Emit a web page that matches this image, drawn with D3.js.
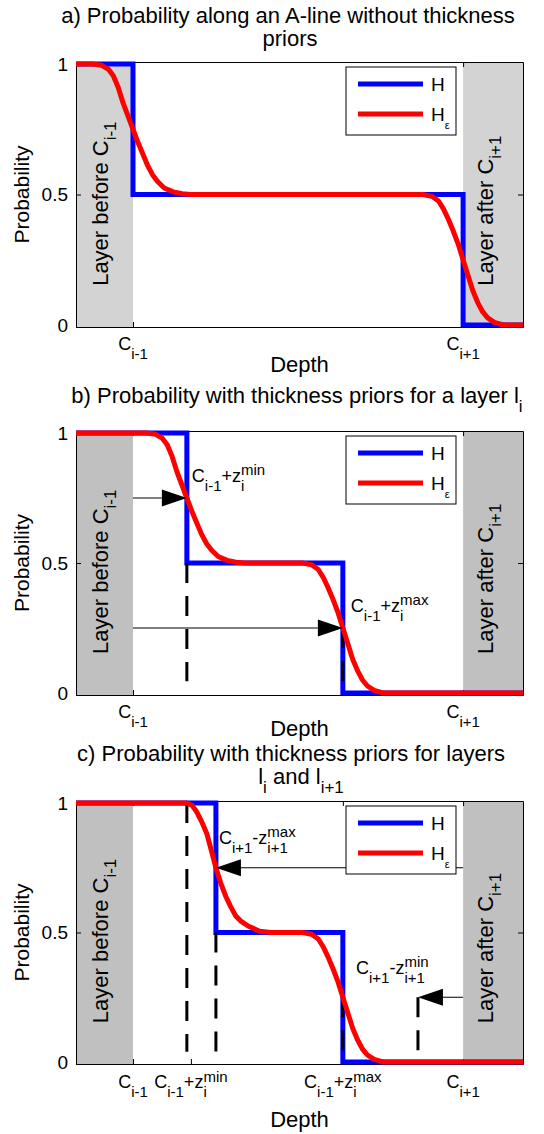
<!DOCTYPE html>
<html><head><meta charset="utf-8">
<script src="https://cdn.jsdelivr.net/npm/d3@7"></script>
<style>
body{margin:0;background:#fff}
svg{display:block}
text{font-family:"Liberation Sans",Arial,Helvetica,sans-serif;fill:#000}
</style>
</head><body>
<svg id="chart" width="544" height="1134"></svg>
<script>
// ---------------- data ----------------
const depthDomain = [0, 100];
const probDomain = [0, 1];
const probTicks = [0, 0.5, 1];
const probTickLabels = ["0", "0.5", "1"];

const layerBefore = [0, 12.75];
const layerAfter = [86.6, 100];
const layerTexts = ["Layer before C_{i-1}", "Layer after C_{i+1}"];
const layerTextProb = 0.15;

const seriesNames = ["H", "H_{ε}"];

const titlesA = ["a) Probability along an A-line without thickness", "priors"];
const titlesB = ["b) Probability with thickness priors for a layer l_{i}"];
const titlesC = ["c) Probability with thickness priors for layers", "l_{i} and l_{i+1}"];
const xLabel = "Depth";
const yLabel = "Probability";

const xTicksA = [12.75, 86.6];
const xTickLabelsA = ["C_{i-1}", "C_{i+1}"];
const xTicksB = [12.75, 86.6];
const xTickLabelsB = ["C_{i-1}", "C_{i+1}"];
const xTicksC = [12.75, 25.7, 59.7, 86.6];
const xTickLabelsC = ["C_{i-1}", "C_{i-1}+z_{i}^{min}", "C_{i-1}+z_{i}^{max}", "C_{i+1}"];

// H (blue step functions)
const hA = [[0,1],[12.75,1],[12.75,0.5],[86.6,0.5],[86.6,0],[100,0]];
const hB = [[0,1],[24.8,1],[24.8,0.5],[59.7,0.5],[59.7,0],[100,0]];
const hC = [[0,1],[31.3,1],[31.3,0.5],[59.7,0.5],[59.7,0],[100,0]];

// H_eps (red smooth curves)
const hEpsA = [[0,1],[3.75,1],[5.75,0.995],[7.25,0.98],[8.35,0.955],[9.45,0.91],[10.55,0.85],[11.65,0.8],[12.75,0.75],
  [13.85,0.7],[14.95,0.655],[16.05,0.61],[17.15,0.575],[18.25,0.55],[19.75,0.525],[21.75,0.51],[23.75,0.503],[25.75,0.5],
  [77.6,0.5],[79.6,0.493],[81.1,0.475],[82.2,0.445],[83.3,0.405],[84.4,0.36],[85.5,0.31],[86.6,0.25],[87.7,0.19],
  [88.8,0.13],[89.9,0.085],[91.0,0.05],[92.1,0.027],[93.6,0.01],[95.6,0],[100,0]];
const hEpsB = [[0,1],[15.8,1],[17.8,0.995],[19.3,0.98],[20.4,0.955],[21.5,0.91],[22.6,0.85],[23.7,0.8],[24.8,0.75],
  [25.9,0.7],[27.0,0.655],[28.1,0.61],[29.2,0.575],[30.3,0.55],[31.8,0.525],[33.8,0.51],[35.8,0.503],[37.8,0.5],
  [50.7,0.5],[52.7,0.493],[54.2,0.475],[55.3,0.445],[56.4,0.405],[57.5,0.36],[58.6,0.31],[59.7,0.25],[60.8,0.19],
  [61.9,0.13],[63.0,0.085],[64.1,0.05],[65.2,0.027],[66.7,0.01],[68.7,0],[100,0]];
const hEpsC = [[0,1],[24.8,1],[26.0,0.99],[27.0,0.966],[28.2,0.925],[29.3,0.88],[30.3,0.815],[31.3,0.75],
  [32.4,0.69],[33.5,0.64],[34.6,0.6],[35.7,0.565],[36.8,0.545],[38.5,0.525],[41.1,0.505],[43.5,0.5],
  [50.7,0.5],[52.7,0.493],[54.2,0.475],[55.3,0.445],[56.4,0.405],[57.5,0.36],[58.6,0.31],[59.7,0.25],[60.8,0.19],
  [61.9,0.13],[63.0,0.085],[64.1,0.05],[65.2,0.027],[66.7,0.01],[68.7,0],[100,0]];

// annotations: arrows [fromDepth, toDepth, prob], dashed [depth, probTop, probBottom]
const arrowsB = [[12.75, 24.8, 0.75], [12.75, 59.7, 0.25]];
const arrowsC = [[86.6, 31.3, 0.75], [86.6, 76.5, 0.25]];
const dashesB = [[24.8, 0.5, 0.045], [59.7, 0.25, 0.045]];
const dashesC = [[24.8, 1, 0.04], [31.3, 0.5, 0.04], [59.7, 0.25, 0.04], [76.5, 0.25, 0.04]];
const annotB = ["C_{i-1}+z_{i}^{min}", "C_{i-1}+z_{i}^{max}"];
const annotC = ["C_{i+1}-z_{i+1}^{max}", "C_{i+1}-z_{i+1}^{min}"];

// ---------------- helpers ----------------
const FONT = '"Liberation Sans",Arial,Helvetica,sans-serif';
function parseTex(s) {
  const parts = []; let buf = ''; let i = 0;
  const readGroup = () => {
    if (s[i] === '{') { const j = s.indexOf('}', i); const g = s.slice(i + 1, j); i = j + 1; return g; }
    return s[i++];
  };
  while (i < s.length) {
    const ch = s[i];
    if (ch === '_' || ch === '^') {
      if (buf) { parts.push({ n: buf }); buf = ''; }
      i++;
      const g = readGroup();
      const key = ch === '_' ? 'sub' : 'sup';
      const last = parts[parts.length - 1];
      if (last && last.n === undefined && last[key] === undefined) last[key] = g;
      else { const p = {}; p[key] = g; parts.push(p); }
    } else { buf += ch; i++; }
  }
  if (buf) parts.push({ n: buf });
  return parts;
}
function richText(g, str, o) {
  const outer = g.append('g').attr('transform', `translate(${o.x},${o.y}) rotate(${o.rotate || 0})`);
  const inner = outer.append('g');
  let cx = 0;
  const add = (txt, y, size) => {
    const t = inner.append('text').attr('x', cx).attr('y', y)
      .style('font-size', size + 'px').style('white-space', 'pre').style('font-family', FONT).text(txt);
    return t.node().getComputedTextLength();
  };
  parseTex(str).forEach(p => {
    if (p.n !== undefined) cx += add(p.n, 0, o.size);
    else {
      let w = 0;
      if (p.sub !== undefined) w = Math.max(w, add(p.sub, o.subDy, o.subSize));
      if (p.sup !== undefined) w = Math.max(w, add(p.sup, -o.supDy, o.subSize));
      cx += w;
    }
  });
  const shift = o.anchor === 'middle' ? -cx / 2 : o.anchor === 'end' ? -cx : 0;
  inner.attr('transform', `translate(${shift},0)`);
  return cx;
}

// ---------------- layout ----------------
const svg = d3.select('#chart');
const LEFT = 76, RIGHT = 523;
const panels = [
  { top: 62, bottom: 327, gray: '#d3d3d3', titles: titlesA, titleY: [23, 46], titleX: [288, 290],
    h: hA, hEps: hEpsA, ticks: xTicksA, tickLabels: xTickLabelsA, tickY: 23, depthY: 45,
    arrows: [], dashes: [], annots: [], annotOff: [] },
  { top: 431, bottom: 695, gray: '#c0c0c0', titles: titlesB, titleY: [403], titleX: [297],
    h: hB, hEps: hEpsB, ticks: xTicksB, tickLabels: xTickLabelsB, tickY: 23, depthY: 41,
    arrows: arrowsB, dashes: dashesB, annots: annotB, annotOff: [[5, -16], [8, -16]] },
  { top: 801, bottom: 1064, gray: '#c0c0c0', titles: titlesC, titleY: [761, 784], titleX: [291, 301],
    h: hC, hEps: hEpsC, ticks: xTicksC, tickLabels: xTickLabelsC, tickY: 24, depthY: 63,
    arrows: arrowsC, dashes: dashesC, annots: annotC, annotOff: [[3, -24], [-62, -23]] }
];

panels.forEach(P => {
  const g = svg.append('g');
  const x = d3.scaleLinear().domain(depthDomain).range([LEFT, RIGHT]);
  const y = d3.scaleLinear().domain(probDomain).range([P.bottom - 2, P.top + 2]);
  const yTop = P.top, yBot = P.bottom;

  // titles
  P.titles.forEach((t, i) => richText(g, t, { x: P.titleX[i], y: P.titleY[i], size: 22, subSize: 17, subDy: 9, supDy: 8, anchor: 'middle' }));

  // gray layers
  [layerBefore, layerAfter].forEach(r => {
    g.append('rect').attr('x', x(r[0])).attr('y', yTop).attr('width', x(r[1]) - x(r[0])).attr('height', yBot - yTop)
      .attr('fill', P.gray);
  });

  // axes (box)
  const tickStyle = sel => { sel.selectAll('path.domain').attr('stroke', '#000').attr('stroke-width', 1);
    sel.selectAll('.tick line').attr('stroke', '#000').attr('stroke-width', 1); sel.selectAll('.tick text').remove(); };
  const yl = d3.scaleLinear().domain(probDomain).range([yBot, yTop]);
  g.append('g').attr('transform', `translate(${LEFT},0)`)
    .call(d3.axisLeft(yl).tickValues(probTicks).tickSize(-5).tickSizeOuter(0)).call(tickStyle);
  g.append('g').attr('transform', `translate(${RIGHT},0)`)
    .call(d3.axisRight(yl).tickValues(probTicks).tickSize(-5).tickSizeOuter(0)).call(tickStyle);
  g.append('g').attr('transform', `translate(0,${yBot})`)
    .call(d3.axisBottom(x).tickValues(P.ticks).tickSize(-5).tickSizeOuter(0)).call(tickStyle);
  g.append('g').attr('transform', `translate(0,${yTop})`)
    .call(d3.axisTop(x).tickValues(P.ticks).tickSize(-5).tickSizeOuter(0)).call(tickStyle);

  // y tick labels
  probTicks.forEach((v, i) => {
    g.append('text').attr('x', LEFT - 8).attr('y', y(v)).attr('dy', '0.36em').attr('text-anchor', 'end')
      .style('font-size', '19px').text(probTickLabels[i]);
  });
  // x tick labels
  P.ticks.forEach((v, i) => richText(g, P.tickLabels[i], { x: x(v), y: yBot + P.tickY, size: 18, subSize: 15, subDy: 9, supDy: 6, anchor: 'middle' }));

  // axis labels
  g.append('text').attr('x', (LEFT + RIGHT) / 2).attr('y', yBot + P.depthY).attr('text-anchor', 'middle')
    .style('font-size', '22px').text(xLabel);
  g.append('text').attr('transform', `translate(29,${(yTop + yBot) / 2}) rotate(-90)`).attr('text-anchor', 'middle')
    .style('font-size', '21px').text(yLabel);

  // layer texts
  richText(g, layerTexts[0], { x: x(layerBefore[1]) - 25, y: y(layerTextProb), rotate: -90, size: 22, subSize: 17, subDy: 8, supDy: 8, anchor: 'start' });
  richText(g, layerTexts[1], { x: x(layerAfter[0]) + 30, y: y(layerTextProb), rotate: -90, size: 22, subSize: 17, subDy: 8, supDy: 8, anchor: 'start' });

  const line = d3.line().x(d => x(d[0])).y(d => y(d[1]));
  // H
  g.append('path').attr('d', line(P.h)).attr('fill', 'none').attr('stroke', '#0000ff').attr('stroke-width', 5);
  // dashed
  P.dashes.forEach(d => {
    g.append('line').attr('x1', x(d[0])).attr('x2', x(d[0])).attr('y1', y(d[1])).attr('y2', y(d[2]))
      .attr('stroke', '#000').attr('stroke-width', 3).attr('stroke-dasharray', '20,13');
  });
  // H eps
  g.append('path').attr('d', line(P.hEps)).attr('fill', 'none').attr('stroke', '#ff0000').attr('stroke-width', 5)
    .attr('stroke-linejoin', 'round');

  // arrows
  P.arrows.forEach(a => {
    const x0 = x(a[0]), x1 = x(a[1]), yy = y(a[2]);
    const dir = Math.sign(x1 - x0), hl = 25, hw = 8.5;
    g.append('line').attr('x1', x0).attr('x2', x1 - dir * hl).attr('y1', yy).attr('y2', yy).attr('stroke', '#000').attr('stroke-width', 1);
    g.append('path').attr('d', `M${x1},${yy}L${x1 - dir * hl},${yy - hw}L${x1 - dir * hl},${yy + hw}Z`).attr('fill', '#000');
  });

  // legend
  const lx = RIGHT - 177, ly = yTop + 5;
  const lg = g.append('g');
  lg.append('rect').attr('x', lx).attr('y', ly).attr('width', 110).attr('height', 68).attr('fill', '#fff').attr('stroke', '#000').attr('stroke-width', 1);
  [['#0000ff', 17], ['#ff0000', 47]].forEach((c, i) => {
    lg.append('line').attr('x1', lx + 12).attr('x2', lx + 77).attr('y1', ly + c[1]).attr('y2', ly + c[1]).attr('stroke', c[0]).attr('stroke-width', 5);
    richText(lg, seriesNames[i], { x: lx + 85, y: ly + c[1] + 7, size: 19, subSize: 11, subDy: 8, supDy: 6, anchor: 'start' });
  });

  // annotation labels (relative to arrow tips)
  P.annots.forEach((t, i) => {
    const a = P.arrows[i];
    richText(g, t, { x: x(a[1]) + P.annotOff[i][0], y: y(a[2]) + P.annotOff[i][1], size: 18, subSize: 15, subDy: 9, supDy: 7, anchor: 'start' });
  });
});
</script>
</body></html>
